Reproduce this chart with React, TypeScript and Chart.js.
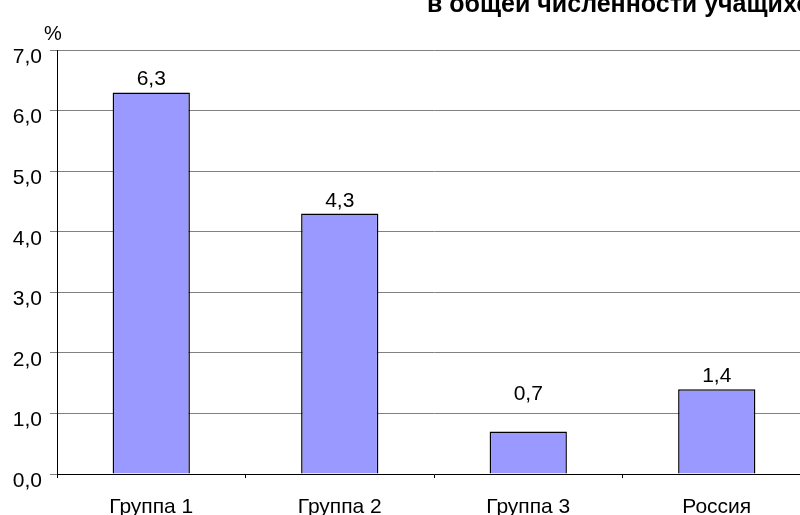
import React, { useEffect, useRef } from "react";
import { Chart, registerables } from "chart.js";

Chart.register(...registerables);

const categories = ["Группа 1", "Группа 2", "Группа 3", "Россия"];
const values = [6.3, 4.3, 0.7, 1.4];
const titleLine = "в общей численности учащихся";
const unitLabel = "%";

const FONT = "'Liberation Sans', Arial, Helvetica, sans-serif";
const fmt = (v: number) => v.toFixed(1).replace(".", ",");

export default function App() {
  const ref = useRef<HTMLCanvasElement | null>(null);

  useEffect(() => {
    if (!ref.current) return;
    const overlay = {
      id: "overlay",
      afterDatasetsDraw(chart: any) {
        const ctx = chart.ctx;
        const meta = chart.getDatasetMeta(0);
        ctx.save();
        ctx.fillStyle = "#000";
        ctx.font = `21px ${FONT}`;
        ctx.textAlign = "center";
        ctx.textBaseline = "alphabetic";
        meta.data.forEach((bar: any, i: number) => {
          // small bars get their label lifted clear of the gridline, as in the source
          const lift = values[i] < 1 ? 32 : 7;
          ctx.fillText(fmt(values[i]), bar.x, bar.y - lift);
        });
        ctx.font = `20px ${FONT}`;
        ctx.fillText(unitLabel, 53, 40);
        ctx.font = `bold 25px ${FONT}`;
        ctx.textAlign = "left";
        ctx.fillText(titleLine, 427, 12);
        ctx.restore();
      },
    };
    const chart = new Chart(ref.current, {
      type: "bar",
      data: {
        labels: categories,
        datasets: [
          {
            data: values,
            backgroundColor: "#9999FF",
            borderColor: "#000",
            borderWidth: 1.5,
            barPercentage: 0.41,
            categoryPercentage: 1,
          },
        ],
      },
      options: {
        animation: false,
        responsive: false,
        devicePixelRatio: 1,
        layout: { padding: { top: 50, right: 19, left: 0, bottom: 0 } },
        plugins: {
          legend: { display: false },
          tooltip: { enabled: false },
          title: { display: false },
        },
        scales: {
          x: {
            offset: true,
            grid: {
              offset: true,
              drawOnChartArea: false,
              drawTicks: true,
              tickLength: 4,
              color: "#000",
            },
            border: { color: "#000", width: 1 },
            ticks: {
              color: "#000",
              font: { family: FONT, size: 21 },
              padding: 17,
              maxRotation: 0,
            },
            afterFit: (s: any) => {
              s.height = 41;
            },
          },
          y: {
            min: 0,
            max: 7,
            grid: {
              color: "#808080",
              tickLength: 7,
              lineWidth: 1,
            },
            border: { color: "#000", width: 1 },
            ticks: {
              stepSize: 1,
              color: "#000",
              font: { family: FONT, size: 21 },
              padding: 8,
              labelOffset: 7,
              callback: (v: any) => fmt(Number(v)),
            },
            afterFit: (s: any) => {
              s.width = 57;
            },
          },
        },
      },
      plugins: [overlay],
    });
    return () => chart.destroy();
  }, []);

  return (
    <div
      style={{
        position: "fixed",
        left: 0,
        top: 0,
        width: 800,
        height: 515,
        overflow: "hidden",
        background: "#fff",
      }}
    >
      <canvas ref={ref} width={830} height={515} style={{ width: 830, height: 515, display: "block" }} />
    </div>
  );
}
